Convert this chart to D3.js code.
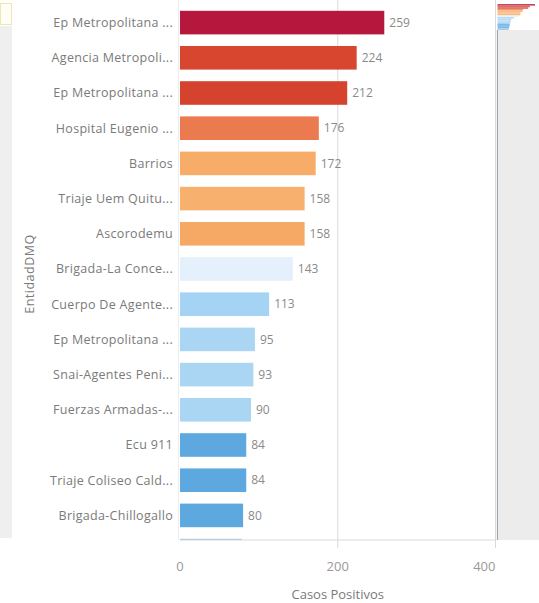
<!DOCTYPE html>
<html lang="es">
<head>
    <meta charset="UTF-8">
    <script src="https://cdn.jsdelivr.net/npm/d3@7/dist/d3.min.js"></script>
    <title>Casos Positivos por EntidadDMQ</title>
    <style>
        body { margin: 0; background: #fff; }
        svg { display: block; font-family: "Open Sans", sans-serif; }
    </style>
</head>
<body>
    <svg width="539" height="603"></svg>
    <script>
        // data
        const entidades = [
            'Ep Metropolitana ...', 'Agencia Metropoli...', 'Ep Metropolitana ...',
            'Hospital Eugenio ...', 'Barrios', 'Triaje Uem Quitu...', 'Ascorodemu',
            'Brigada-La Conce...', 'Cuerpo De Agente...', 'Ep Metropolitana ...',
            'Snai-Agentes Peni...', 'Fuerzas Armadas-...', 'Ecu 911',
            'Triaje Coliseo Cald...', 'Brigada-Chillogallo', ''
        ];
        const casos = [259, 224, 212, 176, 172, 158, 158, 143, 113, 95, 93, 90, 84, 84, 80, 78];
        const xTicks = [0, 200, 400];

        // colours as seen on the bars (top to bottom)
        const palette = ['#b5173d', '#d9462f', '#d5432e', '#ec7a4f', '#f7ad68', '#f7b06d', '#f6a865',
            '#e4f0fb', '#a5d3f3', '#abd6f3', '#abd6f3', '#abd6f3', '#5ea8e0', '#5ea8e0', '#5ea8e0', '#8fc2ea'];

        const svg = d3.select('svg');
        const W = +svg.attr('width');

        const plot = { left: 180, right: 495.5, top: 5, bottom: 540 };
        const ids = d3.range(casos.length);

        const x = d3.scaleLinear().domain([0, 400]).range([plot.left, plot.right]);
        const y = d3.scaleBand()
            .domain(ids)
            .range([plot.top, plot.top + 35.2 * casos.length])
            .paddingInner(0.33)
            .paddingOuter(0.165);
        const color = d3.scaleOrdinal().domain(ids).range(palette);

        // side panels
        svg.append('rect').attr('x', 0).attr('y', 26).attr('width', 12).attr('height', plot.bottom - 28)
            .attr('fill', '#efefef');
        svg.append('rect').attr('x', 0.5).attr('y', 3.5).attr('width', 11).attr('height', 21)
            .attr('fill', '#fffef6').attr('stroke', '#efe7b0');
        svg.append('rect').attr('x', plot.right + 1).attr('y', 30).attr('width', W - plot.right).attr('height', plot.bottom - 30)
            .attr('fill', '#ececec');

        // clip for the scrolled bar list
        svg.append('clipPath').attr('id', 'clip')
            .append('rect').attr('x', 0).attr('y', 0).attr('width', W).attr('height', plot.bottom);

        // grid lines
        svg.append('g')
            .selectAll('line')
            .data(xTicks.slice(1))
            .join('line')
            .attr('x1', d => x(d)).attr('x2', d => x(d))
            .attr('y1', 0).attr('y2', plot.bottom + 8)
            .attr('stroke', '#d9d9d9');
        svg.append('line')
            .attr('x1', plot.left - 1.5).attr('x2', plot.left - 1.5)
            .attr('y1', 0).attr('y2', plot.bottom)
            .attr('stroke', '#eeeeee');

        const chart = svg.append('g').attr('clip-path', 'url(#clip)');

        // bars
        chart.selectAll('rect.bar')
            .data(casos)
            .join('rect')
            .attr('class', 'bar')
            .attr('x', x(0))
            .attr('y', (d, i) => y(i))
            .attr('width', d => x(d) - x(0))
            .attr('height', y.bandwidth())
            .attr('fill', (d, i) => color(i));

        // value labels
        chart.selectAll('text.val')
            .data(casos)
            .join('text')
            .attr('class', 'val')
            .attr('x', d => x(d) + 5)
            .attr('y', (d, i) => y(i) + y.bandwidth() / 2)
            .attr('dy', '0.35em')
            .attr('font-size', 12)
            .attr('fill', '#8a8a8a')
            .text(d => d);

        // category labels
        chart.selectAll('text.cat')
            .data(entidades)
            .join('text')
            .attr('class', 'cat')
            .attr('x', plot.left - 7)
            .attr('y', (d, i) => y(i) + y.bandwidth() / 2)
            .attr('dy', '0.35em')
            .attr('text-anchor', 'end')
            .attr('font-size', 12.5)
            .attr('letter-spacing', 0.3)
            .attr('fill', '#7a7a7a')
            .text(d => d);

        // bottom axis
        svg.append('line')
            .attr('x1', plot.left).attr('x2', plot.right)
            .attr('y1', plot.bottom).attr('y2', plot.bottom)
            .attr('stroke', '#d9d9d9');
        svg.append('g')
            .selectAll('text')
            .data(xTicks)
            .join('text')
            .attr('x', d => x(d))
            .attr('y', 566)
            .attr('dy', '0.35em')
            .attr('text-anchor', (d, i) => i === xTicks.length - 1 ? 'end' : 'middle')
            .attr('font-size', 13)
            .attr('fill', '#999')
            .text(d => d);

        svg.append('text')
            .attr('x', x(200))
            .attr('y', 594)
            .attr('dy', '0.35em')
            .attr('text-anchor', 'middle')
            .attr('font-size', 13)
            .attr('fill', '#7a7a7a')
            .text('Casos Positivos');

        svg.append('text')
            .attr('transform', `translate(30, 274) rotate(-90)`)
            .attr('dy', '0.35em')
            .attr('text-anchor', 'middle')
            .attr('font-size', 12.5)
            .attr('letter-spacing', 0.5)
            .attr('fill', '#7a7a7a')
            .text('EntidadDMQ');

        // mini overview on the right
        const mx = d3.scaleLinear().domain([0, d3.max(casos)]).range([plot.right + 2, W - 4]);
        const my = d3.scaleBand().domain(ids).range([4, 30]);
        svg.append('g')
            .selectAll('rect')
            .data(casos)
            .join('rect')
            .attr('x', mx(0))
            .attr('y', (d, i) => my(i))
            .attr('width', d => mx(d) - mx(0))
            .attr('height', my.bandwidth())
            .attr('fill', (d, i) => color(i))
            .attr('opacity', 0.8);
        svg.append('line')
            .attr('x1', mx(0)).attr('x2', mx(0))
            .attr('y1', 30).attr('y2', plot.bottom)
            .attr('stroke', '#9aa5b0');
    </script>
</body>
</html>
